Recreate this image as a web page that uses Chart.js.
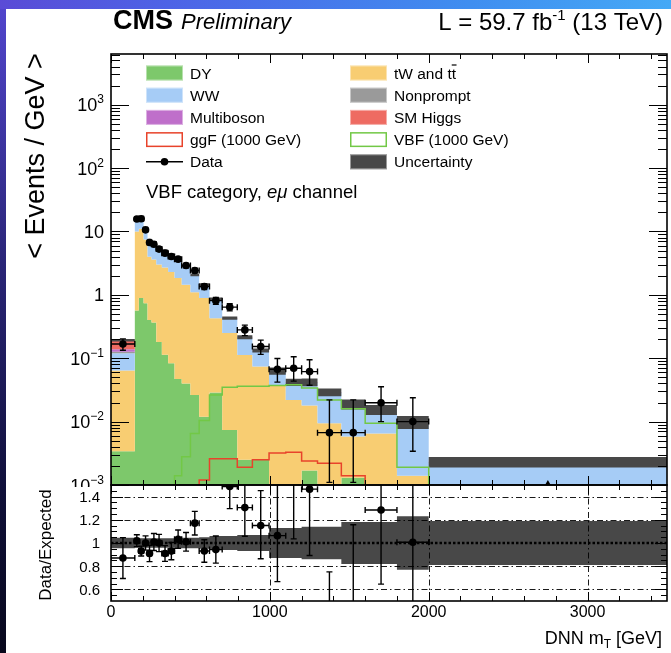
<!DOCTYPE html>
<html>
<head>
<meta charset="utf-8">
<title>DNN mT distribution, VBF category</title>
<script src="https://cdn.jsdelivr.net/npm/chart.js@4.4.1/dist/chart.umd.min.js"></script>
<style>
  html, body { margin: 0; padding: 0; }
  body { width: 671px; height: 653px; position: relative; overflow: hidden;
         background: linear-gradient(to bottom, #5246cf 0%, #2a2578 40%, #10103a 75%, #08081c 100%); }
  #band-top { position: absolute; left: 0; top: 0; width: 671px; height: 9px;
              background: linear-gradient(to right, #5a4bd6 0%, #4d63e6 25%, #3f8ef0 70%, #45a9f6 100%); }
  #sheet { position: absolute; left: 6px; top: 9px; width: 665px; height: 644px; background: #fff; }
  canvas { position: absolute; left: 0; top: 0; }
</style>
</head>
<body>
<div id="band-top"></div>
<div id="sheet"></div>
<canvas id="main" width="671" height="653"></canvas>
<canvas id="ratio" width="671" height="653"></canvas>
<script>
// ---- binning (GeV) ----
const binEdges = [0,150,175,205,230,255,285,320,360,400,445,500,555,620,700,795,890,995,1100,1200,1300,1450,1600,1800,2000,3500];

// ---- background yields, < events / GeV > per bin ----
const dyYield         = [0.0034,0.565,0.89,0.74,0.40,0.365,0.18,0.113,0.083,0.047,0.040,0.0263,0.0119,0.0287,0.0074,0.0025,0.0025,0.0004,0.0004,0.0017,0.0003,0.0013,0.0003,0.0003,0.0002];
const topYield        = [0.0606,9.43,10.1,6.76,3.6,3.24,2.82,2.59,2.22,1.80,1.41,1.07,0.878,0.40,0.243,0.11,0.0715,0.0366,0.0216,0.0163,0.0091,0.0045,0.0062,0.0011,0.0003];
const wwYield         = [0.056,4.9,5.65,2.83,3.18,2.49,2.145,2.19,1.935,1.62,1.358,0.923,0.528,0.411,0.17,0.097,0.0561,0.0245,0.0188,0.023,0.0192,0.0127,0.0086,0.0083,0.0017];
const nonpromptYield  = [0.006,0.1,0.1,0.07,0.05,0.04,0.035,0.03,0.025,0.02,0.015,0.012,0.008,0.005,0.003,0.0015,0.0008,0.0005,0.0005,0.0004,0.0003,0.0002,0.0002,0.0001,0.0001];
const multibosonYield = [0.012,0.15,0.15,0.1,0.07,0.06,0.05,0.045,0.04,0.033,0.027,0.02,0.014,0.008,0.004,0.002,0.0013,0.0006,0.0004,0.0004,0.0003,0.0002,0.00015,0.0001,0.00002];
const higgsYield      = [0.055,0.25,0.2,0.1,0.06,0.05,0.04,0.035,0.03,0.025,0.02,0.015,0.01,0.006,0.003,0.0015,0.0008,0.0004,0.0003,0.0002,0.0001,0.0001,0.00005,0.00004,0.00001];

// relative systematic uncertainty on the total expectation
const systUnc = [0.045,0.04,0.04,0.04,0.04,0.04,0.04,0.04,0.04,0.045,0.045,0.045,0.05,0.06,0.06,0.07,0.07,0.13,0.13,0.14,0.14,0.18,0.18,0.23,0.19];

// ---- 1000 GeV signal hypotheses ----
const ggfSignal = [0.00001,0.00001,0.00001,0.00001,0.00001,0.00001,0.00001,0.00001,0.00001,0.00001,0.00001,0.00001,0.0012,0.0026,0.0026,0.0019,0.0025,0.0032,0.0033,0.0024,0.0022,0.0014,0.0008,0.0005,0.0001];
const vbfSignal = [0.00001,0.00001,0.00001,0.00001,0.00001,0.00001,0.00001,0.00001,0.00001,0.0014,0.0028,0.0065,0.0104,0.0263,0.0348,0.036,0.036,0.037,0.038,0.034,0.022,0.016,0.0094,0.0019,0.0002];

// ---- observed data ----
const dataYield   = [0.168,15.7,15.9,10.6,6.7,6.3,5.27,4.55,4.03,3.66,2.9,2.42,1.35,0.81,0.64,0.28,0.153,0.067,0.0695,0.0615,0.0067,0.0067,0.0199,0.0100,0];
const dataErrDown = [0.034,0.79,0.73,0.65,0.52,0.46,0.39,0.34,0.32,0.28,0.23,0.21,0.14,0.10,0.082,0.053,0.038,0.025,0.026,0.024,0.0056,0.0056,0.0099,0.0066,0];
const dataErrUp   = [0.034,0.79,0.73,0.65,0.52,0.46,0.39,0.34,0.32,0.28,0.23,0.21,0.14,0.10,0.082,0.053,0.040,0.032,0.036,0.033,0.0153,0.0153,0.0156,0.0138,0];

// ---- axis ticks ----
const xMajorTicks = [0,1000,2000,3000];
const xTickLabels = ['0','1000','2000','3000'];
const yDecades = [-3,-2,-1,0,1,2,3];
const ratioTicks = [0.6,0.8,1,1.2,1.4];
const ratioTickLabels = ['0.6','0.8','1','1.2','1.4'];

const COLORS = { dy:'#7dc86b', top:'#f8cd72', ww:'#a6ccf6', nonprompt:'#9a9a9a', multiboson:'#bf6fca',
                 higgs:'#ee6b62', unc:'#484848', ggf:'#e8432b', vbf:'#72c846' };
const FONT = '"Liberation Sans", Arial, Helvetica, sans-serif';

const nBins = binEdges.length - 1;
const centres = binEdges.slice(0, -1).map((e, i) => 0.5 * (e + binEdges[i + 1]));

function stepSeries(values) {
  const pts = values.map((v, i) => ({ x: binEdges[i], y: v }));
  pts.push({ x: binEdges[nBins], y: values[nBins - 1] });
  return pts;
}

// stacked backgrounds, bottom to top
const stackDefs = [
  ['DY', dyYield, COLORS.dy],
  ['tW and tt', topYield, COLORS.top],
  ['WW', wwYield, COLORS.ww],
  ['Nonprompt', nonpromptYield, COLORS.nonprompt],
  ['Multiboson', multibosonYield, COLORS.multiboson],
  ['SM Higgs', higgsYield, COLORS.higgs]
];
let running = new Array(nBins).fill(0);
const stackDatasets = stackDefs.map(([label, vals, color], k) => {
  running = running.map((r, i) => r + vals[i]);
  return { label, data: stepSeries(running), stepped: 'before', fill: k === 0 ? 'start' : '-1',
           backgroundColor: color, borderColor: color, borderWidth: 0, pointRadius: 0, order: 20 - k };
});
const expected = running;
const bandLow = expected.map((t, i) => t * (1 - systUnc[i]));
const bandHigh = expected.map((t, i) => t * (1 + systUnc[i]));

const ratioVals = dataYield.map((d, i) => d / expected[i]);
const ratioErrDown = dataErrDown.map((e, i) => e / expected[i]);
const ratioErrUp = dataErrUp.map((e, i) => e / expected[i]);

// ---- drawing helpers ----
function richText(ctx, x, y, parts, align) {
  let w = 0;
  for (const p of parts) { ctx.font = p.font; w += ctx.measureText(p.text).width + (p.gap || 0); }
  let cx = align === 'right' ? x - w : align === 'center' ? x - w / 2 : x;
  const starts = [];
  for (const p of parts) {
    ctx.font = p.font;
    starts.push(cx);
    ctx.fillText(p.text, cx, y + (p.dy || 0));
    cx += ctx.measureText(p.text).width + (p.gap || 0);
  }
  return starts;
}

function drawTicks(ctx, a, xs, ys, spec) {
  ctx.save();
  ctx.strokeStyle = '#000';
  ctx.lineWidth = 1;
  ctx.beginPath();
  for (const t of spec.x) {
    const px = Math.round(xs.getPixelForValue(t.v)) + 0.5;
    if (px < a.left - 1 || px > a.right + 1) continue;
    if (spec.bottom) { ctx.moveTo(px, a.bottom); ctx.lineTo(px, a.bottom - t.len); }
    if (spec.top) { ctx.moveTo(px, a.top); ctx.lineTo(px, a.top + t.len); }
  }
  for (const t of spec.y) {
    const py = Math.round(ys.getPixelForValue(t.v)) + 0.5;
    if (py < a.top - 1 || py > a.bottom + 1) continue;
    ctx.moveTo(a.left, py); ctx.lineTo(a.left + t.len, py);
    ctx.moveTo(a.right, py); ctx.lineTo(a.right - t.len, py);
  }
  ctx.stroke();
  ctx.lineWidth = 1.6;
  ctx.strokeRect(a.left, a.top, a.right - a.left, a.bottom - a.top);
  ctx.restore();
}

function xTickSpec() {
  const list = [];
  for (let v = 0; v <= 3500; v += 200) if (!xMajorTicks.includes(v)) list.push({ v, len: 5 });
  xMajorTicks.forEach(v => list.push({ v, len: 9 }));
  return list;
}

function drawErrorBars(chart, vals, lo, hi, isLog) {
  const { ctx, chartArea: a, scales: { x, y } } = chart;
  ctx.save();
  ctx.beginPath(); ctx.rect(a.left, a.top, a.right - a.left, a.bottom - a.top); ctx.clip();
  ctx.strokeStyle = '#000'; ctx.fillStyle = '#000'; ctx.lineWidth = 1.4;
  const cap = 3;
  ctx.beginPath();
  for (let i = 0; i < nBins; i++) {
    const x0 = x.getPixelForValue(binEdges[i]);
    const x1 = x.getPixelForValue(binEdges[i + 1]);
    const px = x.getPixelForValue(centres[i]);
    if (isLog && !(vals[i] > 0)) continue;
    const py = y.getPixelForValue(vals[i]);
    const lowV = vals[i] - lo[i];
    const pyLo = (isLog && lowV <= 0) ? a.bottom + 20 : y.getPixelForValue(lowV);
    const pyHi = y.getPixelForValue(vals[i] + hi[i]);
    ctx.moveTo(x0, py); ctx.lineTo(x1, py);
    ctx.moveTo(x0, py - cap); ctx.lineTo(x0, py + cap);
    ctx.moveTo(x1, py - cap); ctx.lineTo(x1, py + cap);
    ctx.moveTo(px, pyLo); ctx.lineTo(px, pyHi);
    ctx.moveTo(px - cap, pyHi); ctx.lineTo(px + cap, pyHi);
    ctx.moveTo(px - cap, pyLo); ctx.lineTo(px + cap, pyLo);
  }
  ctx.stroke();
  // empty bins: marker resting on the lower edge
  if (isLog) {
    for (let i = 0; i < nBins; i++) {
      if (dataYield[i] > 0) continue;
      const px = x.getPixelForValue(centres[i]);
      const pb = y.getPixelForValue(y.min);
      ctx.beginPath();
      ctx.moveTo(px, pb - 5); ctx.lineTo(px - 4.5, pb + 3); ctx.lineTo(px + 4.5, pb + 3); ctx.closePath();
      ctx.fill();
    }
  }
  ctx.restore();
}

// ---- main panel decorations ----
const mainDecor = {
  id: 'mainDecor',
  beforeDatasetDraw(chart, args) {
    if (chart.data.datasets[args.index].role === 'data') drawErrorBars(chart, dataYield, dataErrDown, dataErrUp, true);
  },
  afterDraw(chart) {
    const { ctx, chartArea: a, scales: { x, y } } = chart;
    const yt = [];
    yDecades.forEach(d => {
      yt.push({ v: Math.pow(10, d), len: 18 });
      for (let m = 2; m <= 9; m++) if (m * Math.pow(10, d) < y.max) yt.push({ v: m * Math.pow(10, d), len: 9 });
    });
    drawTicks(ctx, a, x, y, { x: xTickSpec(), y: yt, bottom: true, top: true });

    ctx.save();
    ctx.fillStyle = '#000'; ctx.textBaseline = 'alphabetic'; ctx.textAlign = 'left';
    // y tick labels
    yDecades.forEach(d => {
      const py = y.getPixelForValue(Math.pow(10, d)) + 6.5;
      let parts;
      if (d === 0) parts = [{ text: '1', font: '18px ' + FONT }];
      else if (d === 1) parts = [{ text: '10', font: '18px ' + FONT }];
      else parts = [{ text: '10', font: '18px ' + FONT }, { text: d < 0 ? '\u2212' + (-d) : String(d), font: '12px ' + FONT, dy: -8 }];
      richText(ctx, 104, py, parts, 'right');
    });

    // header
    richText(ctx, 113, 29, [{ text: 'CMS', font: 'bold 27px ' + FONT, gap: 8 }, { text: 'Preliminary', font: 'italic 22px ' + FONT }], 'left');
    richText(ctx, 663, 30, [
      { text: 'L = 59.7 fb', font: '24px ' + FONT },
      { text: '-1', font: '15px ' + FONT, dy: -10 },
      { text: ' (13 TeV)', font: '24px ' + FONT }
    ], 'right');

    // y axis title
    ctx.save();
    ctx.translate(44, 156);
    ctx.rotate(-Math.PI / 2);
    richText(ctx, 0, 0, [{ text: '< Events / GeV >', font: '27px ' + FONT }], 'center');
    ctx.restore();

    // legend
    const rowY = r => 73 + r * 22.2;
    const colX = [146, 350];
    const legend = [
      { text: 'DY', kind: 'fill', color: COLORS.dy, c: 0, r: 0 },
      { text: 'tW and tt', kind: 'fill', color: COLORS.top, c: 1, r: 0, tbar: true },
      { text: 'WW', kind: 'fill', color: COLORS.ww, c: 0, r: 1 },
      { text: 'Nonprompt', kind: 'fill', color: COLORS.nonprompt, c: 1, r: 1 },
      { text: 'Multiboson', kind: 'fill', color: COLORS.multiboson, c: 0, r: 2 },
      { text: 'SM Higgs', kind: 'fill', color: COLORS.higgs, c: 1, r: 2 },
      { text: 'ggF (1000 GeV)', kind: 'line', color: COLORS.ggf, c: 0, r: 3 },
      { text: 'VBF (1000 GeV)', kind: 'line', color: COLORS.vbf, c: 1, r: 3 },
      { text: 'Data', kind: 'data', color: '#000', c: 0, r: 4 },
      { text: 'Uncertainty', kind: 'fill', color: COLORS.unc, c: 1, r: 4 }
    ];
    legend.forEach(e => {
      const x0 = colX[e.c], cy = rowY(e.r);
      if (e.kind === 'fill') {
        ctx.fillStyle = e.color; ctx.fillRect(x0, cy - 7.5, 37, 15);
        ctx.strokeStyle = 'rgba(255,255,255,0.45)'; ctx.lineWidth = 1; ctx.strokeRect(x0 + 0.5, cy - 7, 36, 14);
      } else if (e.kind === 'line') {
        ctx.fillStyle = '#fff'; ctx.fillRect(x0, cy - 7.5, 37, 15);
        ctx.strokeStyle = e.color; ctx.lineWidth = 1.5; ctx.strokeRect(x0 + 0.75, cy - 6.75, 35.5, 13.5);
      } else {
        ctx.strokeStyle = '#000'; ctx.lineWidth = 1.5;
        ctx.beginPath(); ctx.moveTo(x0, cy); ctx.lineTo(x0 + 37, cy); ctx.stroke();
        ctx.fillStyle = '#000'; ctx.beginPath(); ctx.arc(x0 + 18.5, cy, 3.8, 0, Math.PI * 2); ctx.fill();
      }
      ctx.fillStyle = '#000';
      const font = '15.5px ' + FONT;
      const starts = richText(ctx, x0 + 44, cy + 5.5, [{ text: e.text, font }], 'left');
      if (e.tbar) {
        ctx.font = font;
        const wAll = ctx.measureText(e.text).width, wT = ctx.measureText('t').width;
        const tx = starts[0] + wAll - wT;
        ctx.lineWidth = 1.2; ctx.strokeStyle = '#000';
        ctx.beginPath(); ctx.moveTo(tx, cy - 8); ctx.lineTo(tx + wT + 0.5, cy - 8); ctx.stroke();
      }
    });

    // category label
    richText(ctx, 146, 198, [
      { text: 'VBF category, ', font: '18.5px ' + FONT },
      { text: 'e\u03bc', font: 'italic 18.5px ' + FONT },
      { text: ' channel', font: '18.5px ' + FONT }
    ], 'left');
    ctx.restore();
  }
};

// ---- ratio panel decorations ----
const ratioDecor = {
  id: 'ratioDecor',
  beforeDraw(chart) {
    const { ctx } = chart;
    ctx.save(); ctx.fillStyle = '#fff'; ctx.fillRect(6, 487, 665, 166); ctx.restore();
  },
  afterDatasetDraw(chart, args) {
    if (chart.data.datasets[args.index].role !== 'bandHigh') return;
    const { ctx, chartArea: a, scales: { x, y } } = chart;
    ctx.save();
    ctx.beginPath(); ctx.rect(a.left, a.top, a.right - a.left, a.bottom - a.top); ctx.clip();
    ctx.strokeStyle = '#000';
    ctx.lineWidth = 0.9; ctx.setLineDash([6, 3, 1.5, 3]);
    ratioTicks.filter(v => v !== 1).forEach(v => {
      const py = Math.round(y.getPixelForValue(v)) + 0.5;
      ctx.beginPath(); ctx.moveTo(a.left, py); ctx.lineTo(a.right, py); ctx.stroke();
    });
    xMajorTicks.filter(v => v > 0).forEach(v => {
      const px = Math.round(x.getPixelForValue(v)) + 0.5;
      ctx.beginPath(); ctx.moveTo(px, a.top); ctx.lineTo(px, a.bottom); ctx.stroke();
    });
    ctx.lineWidth = 2.6; ctx.setLineDash([2.5, 2]);
    const p1 = y.getPixelForValue(1);
    ctx.beginPath(); ctx.moveTo(a.left, p1); ctx.lineTo(a.right, p1); ctx.stroke();
    ctx.restore();
  },
  beforeDatasetDraw(chart, args) {
    if (chart.data.datasets[args.index].role === 'data') drawErrorBars(chart, ratioVals, ratioErrDown, ratioErrUp, false);
  },
  afterDraw(chart) {
    const { ctx, chartArea: a, scales: { x, y } } = chart;
    const yt = [];
    for (let k = 11; k <= 29; k++) {
      const v = k * 0.05;
      const major = ratioTicks.some(t => Math.abs(t - v) < 1e-6);
      yt.push({ v, len: major ? 12 : 6 });
    }
    drawTicks(ctx, a, x, y, { x: xTickSpec(), y: yt, bottom: true, top: true });

    ctx.save();
    ctx.fillStyle = '#000'; ctx.textBaseline = 'alphabetic'; ctx.textAlign = 'left';
    ratioTicks.forEach((v, i) => {
      richText(ctx, 100, y.getPixelForValue(v) + 5.4, [{ text: ratioTickLabels[i], font: '15px ' + FONT }], 'right');
    });
    xMajorTicks.forEach((v, i) => {
      richText(ctx, x.getPixelForValue(v), 617, [{ text: xTickLabels[i], font: '16px ' + FONT }], 'center');
    });
    richText(ctx, 662, 644, [
      { text: 'DNN m', font: '18px ' + FONT },
      { text: 'T', font: '12px ' + FONT, dy: 4 },
      { text: ' [GeV]', font: '18px ' + FONT }
    ], 'right');
    ctx.save();
    ctx.translate(51, 545);
    ctx.rotate(-Math.PI / 2);
    richText(ctx, 0, 0, [{ text: 'Data/Expected', font: '17px ' + FONT }], 'center');
    ctx.restore();
    ctx.restore();
  }
};

const commonOptions = {
  responsive: false, animation: false, devicePixelRatio: 1, events: [],
  plugins: { legend: { display: false }, tooltip: { enabled: false } },
  elements: { point: { radius: 0 } }
};

new Chart(document.getElementById('main'), {
  type: 'line',
  data: {
    datasets: [
      ...stackDatasets,
      { role: 'bandLow', data: stepSeries(bandLow), stepped: 'before', borderWidth: 0, pointRadius: 0, fill: false, order: 6 },
      { role: 'bandHigh', data: stepSeries(bandHigh), stepped: 'before', borderWidth: 0, pointRadius: 0, fill: '-1',
        backgroundColor: COLORS.unc, order: 5 },
      { label: 'ggF (1000 GeV)', data: stepSeries(ggfSignal), stepped: 'before', borderColor: COLORS.ggf, borderWidth: 1.5,
        pointRadius: 0, fill: false, order: 3 },
      { label: 'VBF (1000 GeV)', data: stepSeries(vbfSignal), stepped: 'before', borderColor: COLORS.vbf, borderWidth: 1.5,
        pointRadius: 0, fill: false, order: 2 },
      { role: 'data', label: 'Data', data: centres.map((c, i) => ({ x: c, y: dataYield[i] })), showLine: false,
        pointRadius: 3.8, pointBackgroundColor: '#000', pointBorderColor: '#000', pointBorderWidth: 0, order: 0 }
    ]
  },
  options: {
    ...commonOptions,
    layout: { padding: { left: 111, right: 3, top: 54, bottom: 168 } },
    scales: {
      x: { type: 'linear', min: 0, max: 3500, display: false },
      y: { type: 'logarithmic', min: 1e-3, max: Math.pow(10, 3.8), display: false }
    }
  },
  plugins: [mainDecor]
});

new Chart(document.getElementById('ratio'), {
  type: 'line',
  data: {
    datasets: [
      { role: 'bandLow', data: stepSeries(systUnc.map(u => 1 - u)), stepped: 'before', borderWidth: 0, pointRadius: 0, fill: false, order: 6 },
      { role: 'bandHigh', data: stepSeries(systUnc.map(u => 1 + u)), stepped: 'before', borderWidth: 0, pointRadius: 0, fill: '-1',
        backgroundColor: COLORS.unc, order: 5 },
      { role: 'data', data: centres.map((c, i) => ({ x: c, y: ratioVals[i] })), showLine: false,
        pointRadius: 3.8, pointBackgroundColor: '#000', pointBorderColor: '#000', pointBorderWidth: 0, order: 0 }
    ]
  },
  options: {
    ...commonOptions,
    layout: { padding: { left: 111, right: 3, top: 485, bottom: 52 } },
    scales: {
      x: { type: 'linear', min: 0, max: 3500, display: false },
      y: { type: 'linear', min: 0.5, max: 1.5, display: false }
    }
  },
  plugins: [ratioDecor]
});
</script>
</body>
</html>
